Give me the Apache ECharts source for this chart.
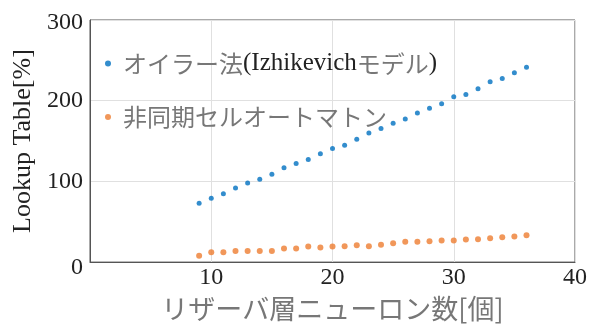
<!DOCTYPE html>
<html><head><meta charset="utf-8">
<script src="https://cdn.jsdelivr.net/npm/echarts@6/dist/echarts.min.js"></script>
<style>html,body{margin:0;padding:0;background:#fff}#c{width:590px;height:327px}</style>
</head><body><div id="c"></div>
<script>
const neurons = [9,10,11,12,13,14,15,16,17,18,19,20,21,22,23,24,25,26,27,28,29,30,31,32,33,34,35,36];
const eulerVals = [72.8,79,84.8,91.8,97.9,102.8,109,116.9,122.2,127.2,134.2,140.7,144.8,152.2,160.1,165.4,172,177.4,184.8,190.5,196.3,204.9,207.8,214.8,223.5,227.5,234.6,241.6];
const asyncVals = [7.8,12.3,12.3,13.6,13.9,13.9,13.9,16.9,16.9,19.3,18.1,19.3,19.6,21,19.6,21.4,23.5,25.1,25.1,25.9,26.7,26.7,28,28.4,29.6,30.9,31.7,33.3];
const xTicks = [0,10,20,30,40];
const yTicks = [0,100,200,300];
const seriesNames = ['オイラー法(Izhikevichモデル)', '非同期セルオートマトン'];

const serif = '"Liberation Serif","Times New Roman",serif';
const jp = '"Noto Sans CJK JP","Noto Sans",sans-serif';
const chart = echarts.init(document.getElementById('c'));
chart.setOption({
  animation: false,
  grid: {left: 90, right: 12, top: 20, bottom: 64, show: true, borderColor: '#555', borderWidth: 1},
  legend: {
    orient: 'vertical', left: 100, top: 46, itemWidth: 20, itemHeight: 6, itemGap: 29,
    icon: 'circle',
    data: seriesNames,
    formatter: function (n) {
      if (n === seriesNames[0]) return '{j|オイラー法}{l|(Izhikevich}{j|モデル}{l|)}';
      return '{j|' + n + '}';
    },
    textStyle: {
      lineHeight: 24,
      rich: {
        j: {fontFamily: jp, fontSize: 24, color: '#777', lineHeight: 24},
        l: {fontFamily: serif, fontSize: 25, color: '#222', lineHeight: 24}
      }
    }
  },
  xAxis: {
    type: 'value', min: xTicks[0], max: xTicks[xTicks.length - 1], interval: 10,
    name: 'リザーバ層ニューロン数[個]', nameLocation: 'middle', nameGap: 31,
    nameTextStyle: {fontFamily: jp, fontSize: 27, color: '#777'},
    axisLine: {show: true, lineStyle: {color: '#555'}},
    axisTick: {show: false},
    axisLabel: {fontFamily: serif, fontSize: 24, color: '#222', margin: 4,
      formatter: v => v === 0 ? '' : String(v)},
    splitLine: {show: true, lineStyle: {color: '#e0e0e0'}}
  },
  yAxis: {
    type: 'value', min: yTicks[0], max: yTicks[yTicks.length - 1], interval: 100,
    name: 'Lookup Table[%]', nameLocation: 'middle', nameGap: 54,
    nameTextStyle: {fontFamily: serif, fontSize: 26, color: '#222'},
    axisLine: {show: true, lineStyle: {color: '#555'}},
    axisTick: {show: false},
    axisLabel: {fontFamily: serif, fontSize: 24, color: '#222', margin: 7,
      formatter: v => v === 0 ? '{z|0}' : (v === 300 ? '{t|300}' : String(v)),
      rich: {
        z: {fontFamily: serif, fontSize: 24, color: '#222', padding: [12, 0, 0, 0]},
        t: {fontFamily: serif, fontSize: 24, color: '#222', padding: [6, 0, 0, 0]}
      }},
    splitLine: {show: true, lineStyle: {color: '#e0e0e0'}}
  },
  series: [
    {name: seriesNames[0], type: 'scatter', symbolSize: 5, itemStyle: {color: '#0070c0'},
     data: neurons.map((x, i) => [x, eulerVals[i]])},
    {name: seriesNames[1], type: 'scatter', symbolSize: 6, itemStyle: {color: '#ed7d31'},
     data: neurons.map((x, i) => [x, asyncVals[i]])}
  ]
});
</script></body></html>
